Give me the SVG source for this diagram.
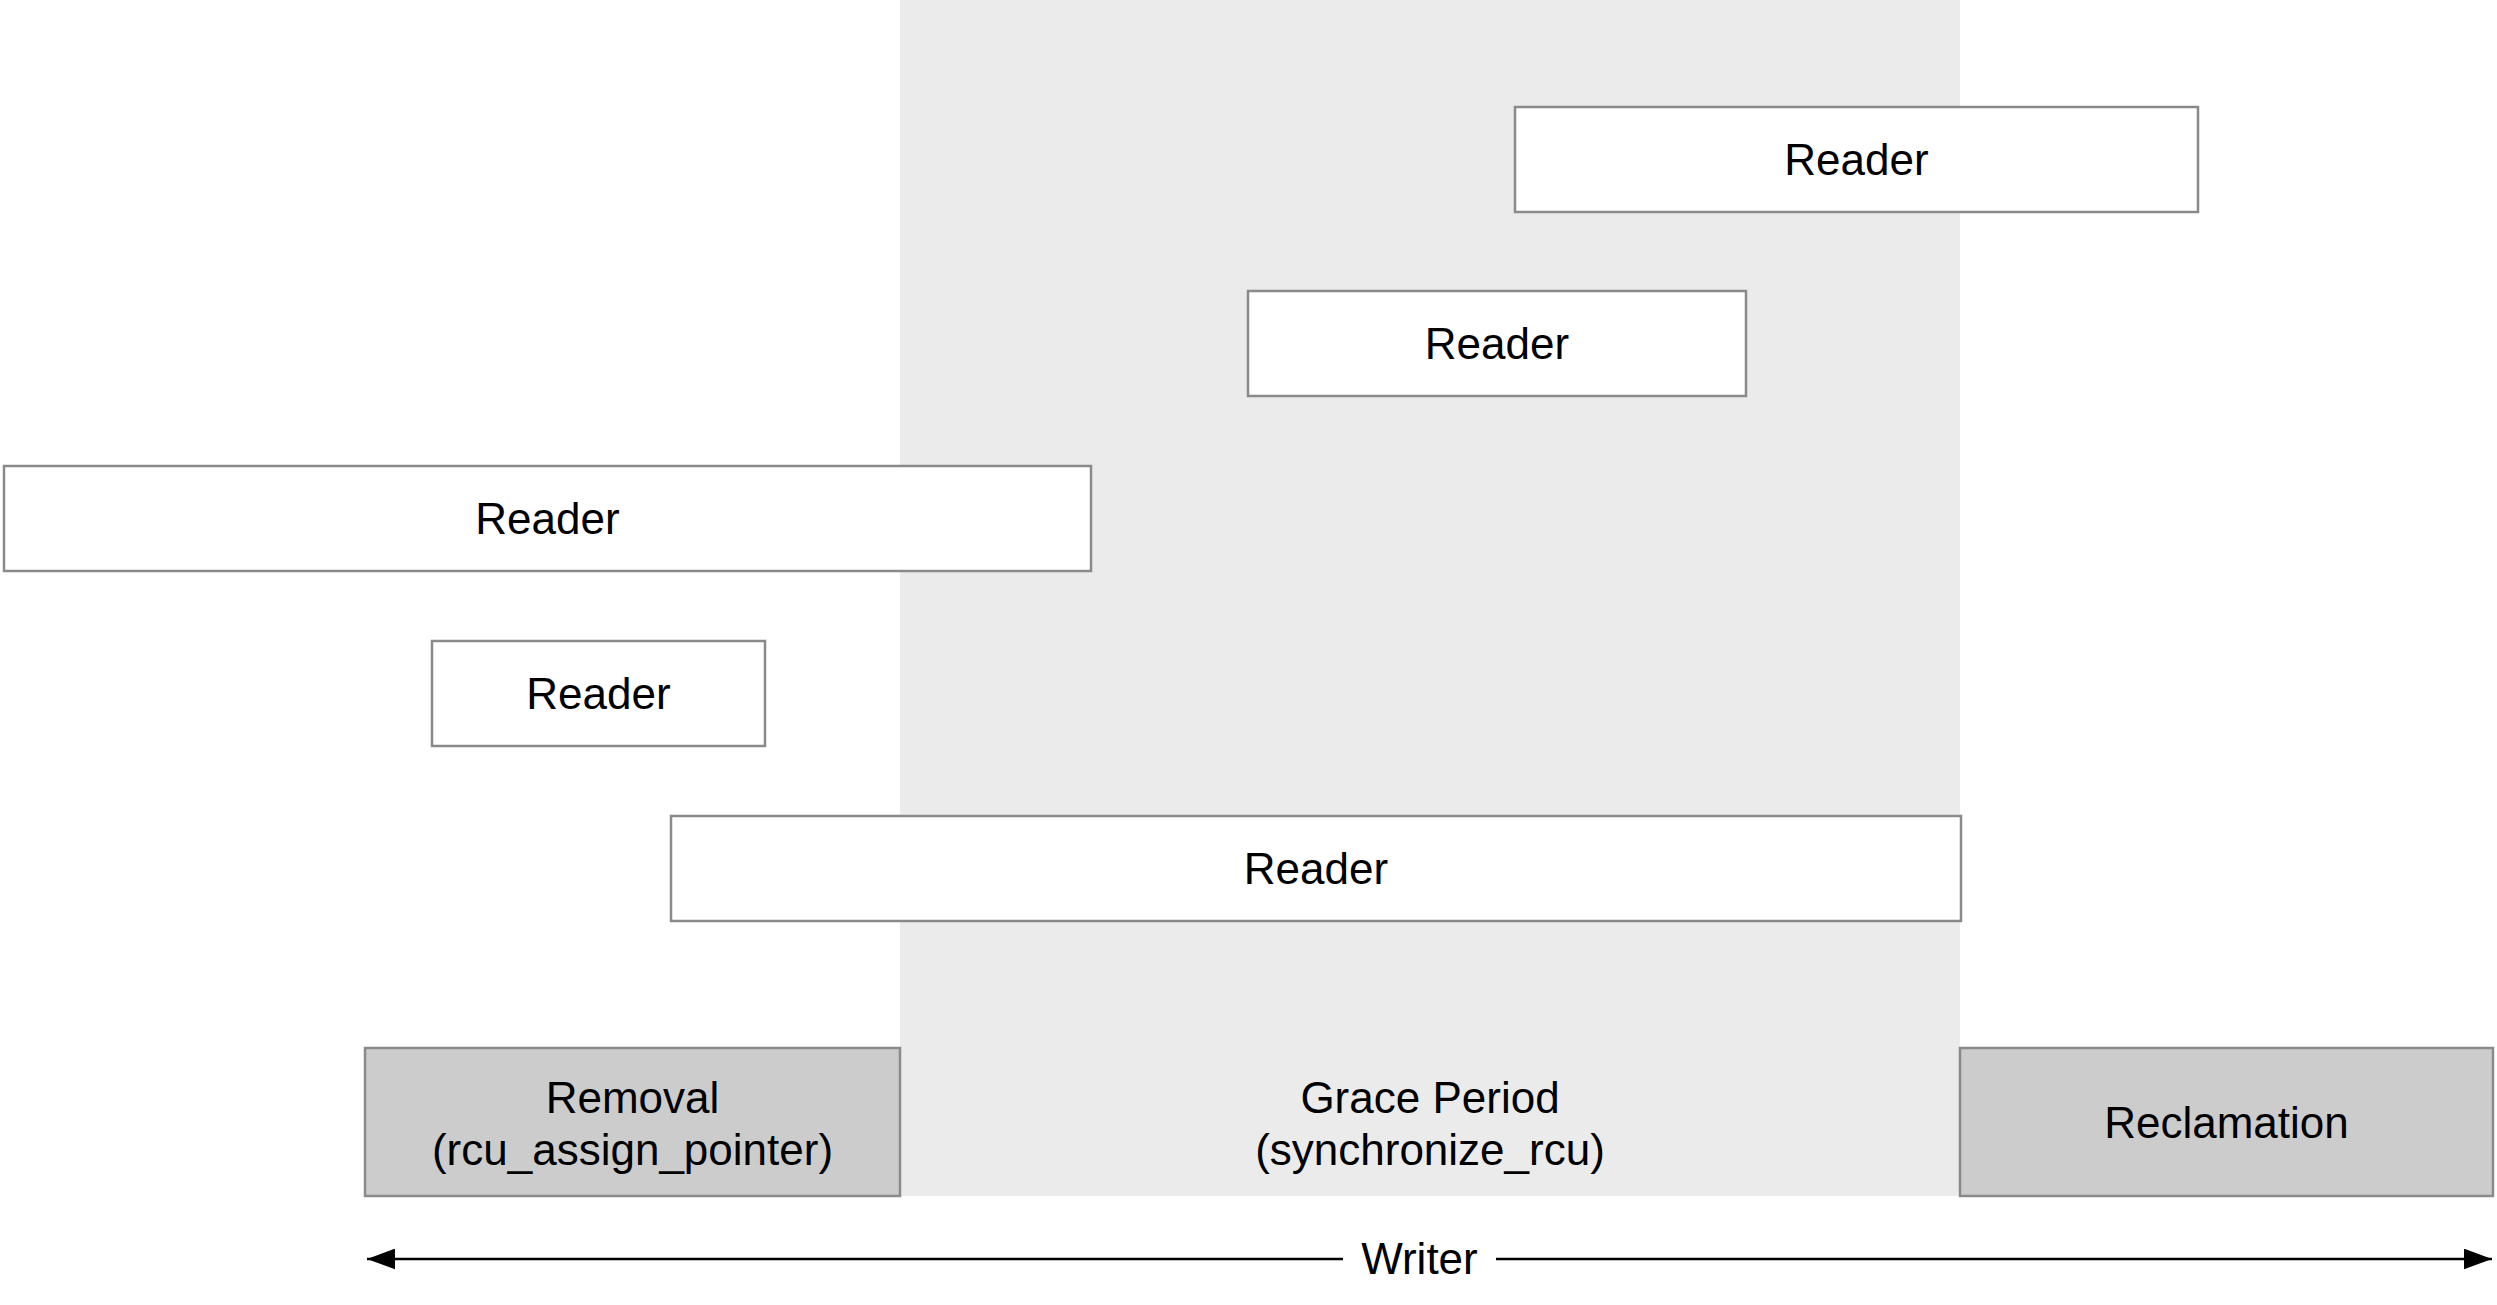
<svg xmlns="http://www.w3.org/2000/svg" width="2497" height="1305" viewBox="0 0 2497 1305">
  <style>
    .box { fill: #ffffff; stroke: #8a8a8a; stroke-width: 2.5; }
    .phase { fill: #cccccc; stroke: #8a8a8a; stroke-width: 2.5; }
    .lbl { font-family: "Liberation Sans", Arial, Helvetica, sans-serif; font-size: 44px; fill: #000000; text-anchor: middle; }
    .axis { stroke: #000000; stroke-width: 2.5; fill: none; }
  </style>
  <defs>
    <marker id="arrow" markerUnits="userSpaceOnUse" markerWidth="28" markerHeight="21" viewBox="0 0 27 20" refX="27" refY="10" orient="auto-start-reverse">
      <path d="M0,0 L27,10 L0,20 Z" fill="#000000"/>
    </marker>
  </defs>

  <rect id="band" x="900" y="0" width="1060" height="1196" fill="#ebebeb"/>

  <g id="reader1">
    <rect class="box" x="1515" y="107" width="683" height="105"/>
    <text class="lbl" x="1856.5" y="175">Reader</text>
  </g>
  <g id="reader2">
    <rect class="box" x="1248" y="291" width="498" height="105"/>
    <text class="lbl" x="1497" y="359">Reader</text>
  </g>
  <g id="reader3">
    <rect class="box" x="4" y="466" width="1087" height="105"/>
    <text class="lbl" x="547.5" y="534">Reader</text>
  </g>
  <g id="reader4">
    <rect class="box" x="432" y="641" width="333" height="105"/>
    <text class="lbl" x="598.5" y="709">Reader</text>
  </g>
  <g id="reader5">
    <rect class="box" x="671" y="816" width="1290" height="105"/>
    <text class="lbl" x="1316" y="884">Reader</text>
  </g>

  <g id="removal">
    <rect class="phase" x="365" y="1048" width="535" height="148"/>
    <text class="lbl" x="632.5" y="1113">Removal</text>
    <text class="lbl" x="632.5" y="1165">(rcu_assign_pointer)</text>
  </g>
  <g id="grace">
    <text class="lbl" x="1430" y="1113">Grace Period</text>
    <text class="lbl" x="1430" y="1165">(synchronize_rcu)</text>
  </g>
  <g id="reclamation">
    <rect class="phase" x="1960" y="1048" width="533" height="148"/>
    <text class="lbl" x="2226.5" y="1138">Reclamation</text>
  </g>

  <g id="connectors">
    <line class="axis" x1="367" y1="1259" x2="1343" y2="1259" marker-start="url(#arrow)"/>
    <line class="axis" x1="1496" y1="1259" x2="2492" y2="1259" marker-end="url(#arrow)"/>
    <text class="lbl" x="1419.5" y="1274">Writer</text>
  </g>
</svg>
